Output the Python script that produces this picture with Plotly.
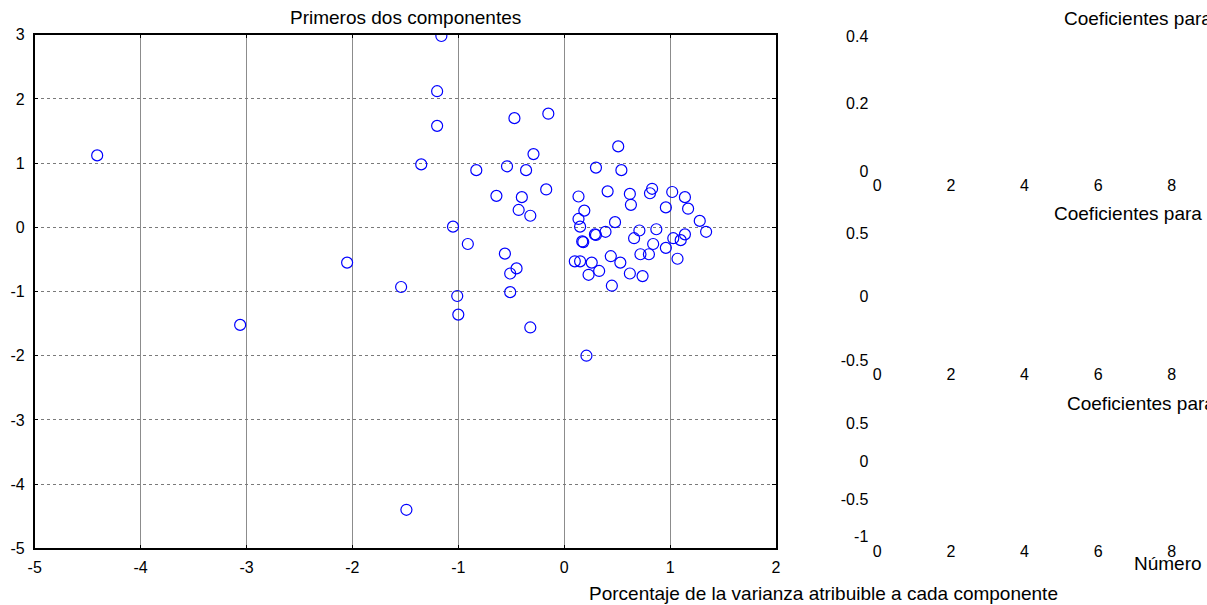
import plotly.graph_objects as go

# ---------------- data ----------------
pc1 = [-4.41, -3.06, -2.05, -1.54, -1.49, -1.16, -1.20, -1.20, -1.35, -1.05,
       -0.91, -1.01, -1.00, -0.47, -0.15, -0.29, -0.83, -0.54, -0.36, -0.64,
       -0.40, -0.43, -0.32, -0.17, -0.56, -0.45, -0.51, -0.51, -0.32, 0.21,
       0.51, 0.30, 0.54, 0.135, 0.41, 0.62, 0.83, 0.81, 1.02, 1.14,
       0.63, 0.96, 1.17, 0.19, 0.135, 0.48, 1.28, 0.15, 1.34, 0.39,
       0.29, 0.30, 0.17, 0.18, 0.71, 0.66, 0.87, 1.03, 1.10, 1.14,
       0.84, 0.96, 0.72, 0.80, 1.07, 0.44, 0.53, 0.10, 0.15, 0.26,
       0.33, 0.23, 0.62, 0.74, 0.45]
pc2 = [1.12, -1.52, -0.55, -0.93, -4.40, 2.98, 2.12, 1.58, 0.98, 0.01,
       -0.26, -1.07, -1.36, 1.70, 1.77, 1.14, 0.89, 0.95, 0.89, 0.49,
       0.47, 0.27, 0.18, 0.59, -0.41, -0.64, -0.72, -1.01, -1.56, -2.00,
       1.26, 0.93, 0.89, 0.48, 0.56, 0.52, 0.60, 0.53, 0.55, 0.47,
       0.35, 0.31, 0.29, 0.26, 0.13, 0.08, 0.10, 0.01, -0.07, -0.07,
       -0.11, -0.12, -0.22, -0.23, -0.05, -0.17, -0.03, -0.17, -0.20, -0.11,
       -0.26, -0.32, -0.42, -0.42, -0.49, -0.45, -0.55, -0.53, -0.53, -0.55,
       -0.68, -0.74, -0.72, -0.76, -0.91]

x_ticks_main = [-5, -4, -3, -2, -1, 0, 1, 2]
x_labels_main = ["-5", "-4", "-3", "-2", "-1", "0", "1", "2"]
y_ticks_main = [-5, -4, -3, -2, -1, 0, 1, 2, 3]
y_labels_main = ["-5", "-4", "-3", "-2", "-1", "0", "1", "2", "3"]

coef_x_ticks = [0, 2, 4, 6, 8]
coef_x_labels = ["0", "2", "4", "6", "8"]
coef1_y_ticks = [0, 0.2, 0.4]
coef1_y_labels = ["0", "0.2", "0.4"]
coef2_y_ticks = [-0.5, 0, 0.5]
coef2_y_labels = ["-0.5", "0", "0.5"]
coef3_y_ticks = [-1, -0.5, 0, 0.5]
coef3_y_labels = ["-1", "-0.5", "0", "0.5"]

title_main = "Primeros dos componentes"
coef_titles = ["Coeficientes para el primer componente",
               "Coeficientes para el segundo componente",
               "Coeficientes para el tercer componente"]
label_var = "Porcentaje de la varianza atribuible a cada componente"
label_num = "Número de variable"

# ---------------- layout helpers ----------------
W, H = 1207, 605
def fx(px):
    return px / W
def fy(py):
    return 1 - py / H

FONT = "Liberation Sans, Arial, sans-serif"
TICKF = dict(family=FONT, size=16, color="black")

fig = go.Figure()
fig.add_trace(go.Scatter(x=pc1, y=pc2, mode="markers", xaxis="x", yaxis="y",
                         marker=dict(symbol="circle-open", size=11,
                                     color="#0000ff", line=dict(width=1.2, color="#0000ff")),
                         showlegend=False, hoverinfo="skip"))
# empty traces to anchor right-hand axes
for ax in ["2", "3", "4"]:
    fig.add_trace(go.Scatter(x=[], y=[], xaxis="x" + ax, yaxis="y" + ax, showlegend=False))

main_x = dict(domain=[fx(34.7), fx(776)], range=[-5, 2], tickvals=x_ticks_main,
              ticktext=x_labels_main, showgrid=True, gridcolor="#8c8c8c", gridwidth=1,
              showline=True, linecolor="black", linewidth=1.5, mirror="allticks",
              ticks="inside", ticklen=4, tickcolor="black", zeroline=False,
              tickfont=TICKF, ticklabelstandoff=4, anchor="y", fixedrange=True,
              automargin=False)
main_y = dict(domain=[fy(548.3), fy(34.7)], range=[-5, 3], tickvals=y_ticks_main,
              ticktext=y_labels_main, showgrid=True, gridcolor="#7a7a7a", gridwidth=1,
              griddash="dot", showline=True, linecolor="black", linewidth=1.5,
              mirror="allticks", ticks="inside", ticklen=4, tickcolor="black",
              zeroline=False, tickfont=TICKF, ticklabelstandoff=5, anchor="x",
              fixedrange=True, automargin=False)

xr = [0, (W - 877.3) / 36.8]
def coef_axes(idx, top, bottom, yr, yt, yl):
    xa = dict(domain=[fx(877.3), 1.0], range=xr, tickvals=coef_x_ticks,
              ticktext=coef_x_labels, showgrid=False, showline=False, zeroline=False,
              ticks="", tickfont=TICKF, ticklabelstandoff=3, anchor="y" + idx,
              automargin=False)
    ya = dict(domain=[fy(bottom), fy(top)], range=yr, tickvals=yt, ticktext=yl,
              showgrid=False, showline=False, zeroline=False, ticks="",
              tickfont=TICKF, ticklabelstandoff=8, anchor="x" + idx,
              automargin=False)
    return xa, ya

x2, y2 = coef_axes("2", 36, 171, [0, 0.4], coef1_y_ticks, coef1_y_labels)
x3, y3 = coef_axes("3", 233.3, 360, [-0.5, 0.5], coef2_y_ticks, coef2_y_labels)
x4, y4 = coef_axes("4", 423.3, 536.7, [-1, 0.5], coef3_y_ticks, coef3_y_labels)

ann_font = dict(family=FONT, size=19, color="black")
annotations = [
    dict(text=title_main, x=fx(405), y=fy(18), xref="paper", yref="paper",
         xanchor="center", yanchor="middle", showarrow=False, font=ann_font),
    dict(text=coef_titles[0], x=fx(1062.3), y=fy(18.3), xref="paper", yref="paper",
         xanchor="left", yanchor="middle", showarrow=False, font=ann_font),
    dict(text=coef_titles[1], x=fx(1052.3), y=fy(213.3), xref="paper", yref="paper",
         xanchor="left", yanchor="middle", showarrow=False, font=ann_font),
    dict(text=coef_titles[2], x=fx(1065), y=fy(403.3), xref="paper", yref="paper",
         xanchor="left", yanchor="middle", showarrow=False, font=ann_font),
    dict(text=label_var, x=fx(823.5), y=fy(593), xref="paper", yref="paper",
         xanchor="center", yanchor="middle", showarrow=False, font=ann_font),
    dict(text=label_num, x=fx(1131.7), y=fy(563.3), xref="paper", yref="paper",
         xanchor="left", yanchor="middle", showarrow=False, font=ann_font),
]

fig.update_layout(
    width=W, height=H, margin=dict(l=0, r=0, t=0, b=0),
    paper_bgcolor="white", plot_bgcolor="white",
    xaxis=main_x, yaxis=main_y,
    xaxis2=x2, yaxis2=y2, xaxis3=x3, yaxis3=y3, xaxis4=x4, yaxis4=y4,
    annotations=annotations, showlegend=False,
    font=dict(family=FONT, size=16, color="black"),
)

fig.write_html("out.html", config={"displayModeBar": False})
